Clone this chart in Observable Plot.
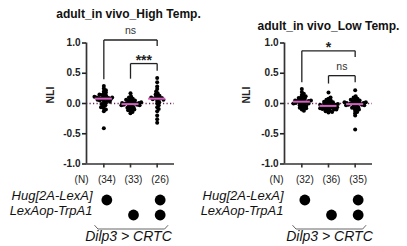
<!DOCTYPE html>
<html><head><meta charset="utf-8">
<script src="https://cdn.jsdelivr.net/npm/d3@7"></script>
<script src="https://cdn.jsdelivr.net/npm/@observablehq/plot@0.6"></script>
<style>
body{margin:0;background:#fff;}
#wrap{display:flex;width:407px;height:246px;overflow:visible;}
#wrap svg{overflow:visible;flex:none;}
</style></head><body><div id="wrap"></div>
<script>
// ---------- data ----------
const yTicks = [-1, -0.5, 0, 0.5, 1];
const groupTicks = [0, 1, 2];
const highTitle = "adult_in vivo_High Temp.";
const lowTitle = "adult_in vivo_Low Temp.";
const yLabel = "NLI";

const highG1 = [0.29,0.25,0.22,0.2,0.18,0.16,0.15,0.14,0.13,0.12,0.11,0.1,0.1,0.09,0.09,0.08,0.08,0.08,0.07,0.06,0.05,0.05,0.04,0.03,0.02,0.0,-0.01,-0.03,-0.04,-0.06,-0.08,-0.1,-0.13,-0.41];
const highG2 = [0.17,0.12,0.1,0.08,0.07,0.06,0.05,0.04,0.03,0.03,0.02,0.01,0.01,0.0,0.0,0.0,-0.01,-0.01,-0.02,-0.02,-0.03,-0.03,-0.04,-0.05,-0.06,-0.07,-0.08,-0.09,-0.1,-0.11,-0.12,-0.14,-0.16];
const highG3 = [0.42,0.35,0.28,0.24,0.2,0.17,0.15,0.13,0.12,0.1,0.09,0.09,0.08,0.08,0.07,0.06,0.04,0.02,0.0,-0.03,-0.06,-0.09,-0.13,-0.2,-0.26,-0.32];

const lowG1 = [0.24,0.19,0.16,0.14,0.12,0.11,0.1,0.09,0.08,0.07,0.06,0.05,0.05,0.04,0.04,0.03,0.03,0.02,0.02,0.01,0.0,0.0,-0.01,-0.02,-0.03,-0.04,-0.05,-0.06,-0.07,-0.08,-0.1,-0.12];
const lowG2 = [0.18,0.1,0.08,0.06,0.05,0.04,0.03,0.02,0.01,0.0,0.0,-0.01,-0.01,-0.02,-0.02,-0.03,-0.03,-0.04,-0.04,-0.05,-0.05,-0.06,-0.06,-0.07,-0.07,-0.08,-0.08,-0.09,-0.09,-0.1,-0.1,-0.11,-0.12,-0.13,-0.14,-0.15];
const lowG3 = [0.22,0.12,0.1,0.08,0.07,0.06,0.05,0.04,0.03,0.03,0.02,0.02,0.01,0.01,0.0,0.0,0.0,-0.01,-0.01,-0.02,-0.02,-0.03,-0.03,-0.04,-0.05,-0.06,-0.07,-0.08,-0.09,-0.1,-0.12,-0.14,-0.16,-0.2,-0.43];

// significance brackets (NLI units)
const highComparisons = [
  {from: 0, to: 2, label: "ns", top: 1.05, leftEnd: 0.40, rightEnd: 0.95},
  {from: 1, to: 2, label: "***", top: 0.66, leftEnd: 0.41, rightEnd: 0.54}
];
const lowComparisons = [
  {from: 0, to: 2, label: "*", top: 0.87, leftEnd: 0.35, rightEnd: 0.77},
  {from: 1, to: 2, label: "ns", top: 0.46, leftEnd: 0.33, rightEnd: 0.35}
];

const nHeader = "(N)";
const genotypeRows = ["Hug[2A-LexA]", "LexAop-TrpA1"];
const hugOn = [true, false, true];
const trpOn = [false, true, true];
const driverLabel = "Dilp3 > CRTC";

// ---------- layout / style ----------
const X_DOMAIN = [-0.65, 2.65];
const Y_DOMAIN = [-1, 1];
const H = 246, MT = 42.5, MB = 82.5;
const FONT = "'Liberation Sans', Arial, Helvetica, sans-serif";
const DOT_R = 2.0, DOT_SPACING = 2.4;

function swarmOffsets(values, d, ky) {
  const m = d3.median(values);
  const order = d3.range(values.length).sort((a, b) => Math.abs(values[a] - m) - Math.abs(values[b] - m));
  const placed = [], out = new Array(values.length);
  for (const i of order) {
    const y = -values[i] * ky;
    const cands = [0];
    for (const p of placed) {
      const dy = y - p.y;
      if (Math.abs(dy) < d) { const dx = Math.sqrt(d * d - dy * dy); cands.push(p.x + dx, p.x - dx); }
    }
    cands.sort((a, b) => Math.abs(a) - Math.abs(b));
    let chosen = 0;
    for (const c of cands) {
      if (placed.every(p => (p.x - c) ** 2 + (p.y - y) ** 2 >= d * d - 1e-6)) { chosen = c; break; }
    }
    placed.push({x: chosen, y});
    out[i] = chosen;
  }
  return out;
}

function panel(cfg) {
  const W = cfg.width, mL = cfg.marginLeft, mR = cfg.marginRight;
  const kx = (W - mL - mR) / (X_DOMAIN[1] - X_DOMAIN[0]);
  const ky = (H - MT - MB) / (Y_DOMAIN[1] - Y_DOMAIN[0]);
  const points = cfg.series.flatMap((vals, g) => {
    const off = swarmOffsets(vals, DOT_SPACING, ky);
    return vals.map((v, i) => ({g, v, x: g + off[i] / kx}));
  });
  const medians = cfg.series.map((vals, g) => ({g, m: d3.median(vals)}));
  const segs = cfg.comparisons.flatMap(c => [
    {x1: c.from, x2: c.to, y1: c.top, y2: c.top},
    {x1: c.from, x2: c.from, y1: c.top, y2: c.leftEnd},
    {x1: c.to, x2: c.to, y1: c.top, y2: c.rightEnd}
  ]);
  const nLabels = cfg.series.map((vals, g) => ({g, t: `(${vals.length})`}));
  const hugDots = groupTicks.map(g => ({g, on: hugOn[g]})).filter(d => d.on);
  const trpDots = groupTicks.map(g => ({g, on: trpOn[g]})).filter(d => d.on);
  const below = px => Y_DOMAIN[0] - px / ky;
  const first = groupTicks[0], last = groupTicks[groupTicks.length - 1];
  const driverBracket = [
    {x: first - 0.34, y: below(61.5)},
    {x: first - 0.22, y: below(65)},
    {x: last + 0.28, y: below(65)},
    {x: last + 0.40, y: below(61.5)}
  ];
  const mid = c => (c.from + c.to) / 2;
  const isStar = c => c.label.includes("*");

  return Plot.plot({
    width: W, height: H,
    marginLeft: mL, marginRight: mR, marginTop: MT, marginBottom: MB,
    style: {background: "transparent", overflow: "visible", fontFamily: FONT},
    x: {domain: X_DOMAIN},
    y: {domain: Y_DOMAIN},
    marks: [
      Plot.ruleY([0], {stroke: "#6e1f55", strokeWidth: 1.4, strokeDasharray: "1.2,2.3"}),
      Plot.dot(points, {x: "x", y: "v", r: DOT_R, fill: "#000", stroke: null}),
      Plot.ruleY(medians, {y: "m", x1: d => d.g - 0.32, x2: d => d.g + 0.32, stroke: "#d65fbf", strokeWidth: 2}),
      Plot.ruleX([X_DOMAIN[0]], {y1: Y_DOMAIN[0], y2: Y_DOMAIN[1], stroke: "#333", strokeWidth: 1.7}),
      Plot.ruleY([Y_DOMAIN[0]], {stroke: "#333", strokeWidth: 1.7}),
      Plot.axisY({ticks: yTicks, tickSize: 4, tickPadding: 2, tickFormat: d => d.toFixed(1), label: null,
        fontWeight: "bold", fontSize: 10, color: "#222", strokeWidth: 1.6}),
      Plot.axisX({ticks: groupTicks, tickSize: 4, tickFormat: () => "", label: null, color: "#333", strokeWidth: 1.6}),
      Plot.text([yLabel], {frameAnchor: "left", dx: cfg.yLabelDx, rotate: -90, fontWeight: "bold", fontSize: 10.5, fill: "#222"}),
      Plot.text([cfg.title], {frameAnchor: "top", dx: cfg.titleDx, dy: cfg.titleDy, fontWeight: "bold", fontSize: 12, fill: "#111"}),
      Plot.link(segs, {x1: "x1", x2: "x2", y1: "y1", y2: "y2", stroke: "#222", strokeWidth: 1.3}),
      Plot.text(cfg.comparisons.filter(c => !isStar(c)), {x: mid, y: "top", text: "label", dy: -9, fontSize: 10.5, fill: "#333"}),
      Plot.text(cfg.comparisons.filter(isStar), {x: mid, y: "top", text: "label", dy: -3, fontSize: 14, fontWeight: "bold", fill: "#222"}),
      // genotype table below the axis
      Plot.text([nHeader], {frameAnchor: "bottom-left", dx: cfg.nDx, dy: 19, textAnchor: "end", fontSize: 10, fill: "#222"}),
      Plot.text(nLabels, {x: "g", text: "t", frameAnchor: "bottom", dx: 3, dy: 19, fontSize: 10, fill: "#222"}),
      Plot.text([genotypeRows[0]], {frameAnchor: "bottom-left", dx: cfg.rowDx, dy: 36, textAnchor: "end", fontStyle: "italic", fontSize: 13, fill: "#111"}),
      Plot.text([genotypeRows[1]], {frameAnchor: "bottom-left", dx: cfg.rowDx, dy: 51, textAnchor: "end", fontStyle: "italic", fontSize: 13, fill: "#111"}),
      Plot.dot(hugDots, {x: "g", frameAnchor: "bottom", dx: 3, dy: 36, r: 5.4, fill: "#000"}),
      Plot.dot(trpDots, {x: "g", frameAnchor: "bottom", dx: 3, dy: 51, r: 5.4, fill: "#000"}),
      Plot.line(driverBracket, {x: "x", y: "y", stroke: "#666", strokeWidth: 1}),
      Plot.text([driverLabel], {frameAnchor: "bottom", dx: cfg.driverDx, dy: 76.5, fontStyle: "italic", fontSize: 14, fill: "#111"})
    ]
  });
}

const wrap = document.getElementById("wrap");
wrap.append(panel({
  width: 203, marginLeft: 86, marginRight: 29,
  title: highTitle, titleDx: -2, titleDy: -33.5,
  series: [highG1, highG2, highG3], comparisons: highComparisons,
  yLabelDx: -36, nDx: 2, rowDx: 6, driverDx: -2
}));
wrap.append(panel({
  width: 204, marginLeft: 81, marginRight: 35,
  title: lowTitle, titleDx: 0, titleDy: -21.5,
  series: [lowG1, lowG2, lowG3], comparisons: lowComparisons,
  yLabelDx: -38, nDx: -1, rowDx: -1, driverDx: 1
}));
</script></body></html>
